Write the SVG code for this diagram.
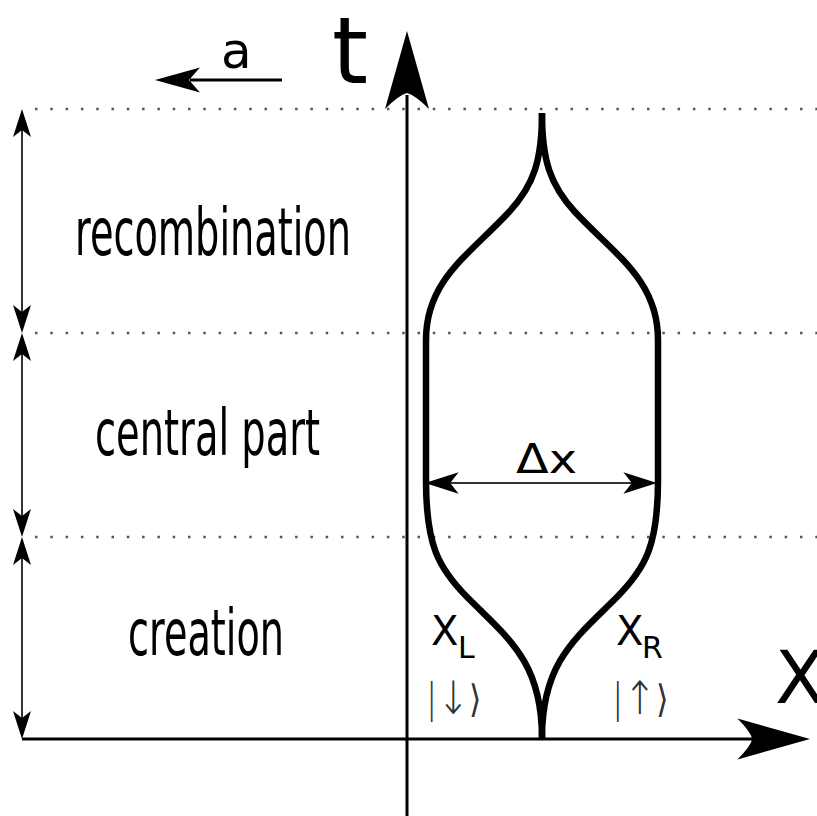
<svg xmlns="http://www.w3.org/2000/svg" width="817" height="816" viewBox="0 0 817 816">
<style>
.dot{stroke:#555;stroke-width:2.5;stroke-dasharray:2.5 12.8;fill:none}
.axis{stroke:#000;stroke-width:3;fill:none}
.thin{stroke:#333;stroke-width:2;fill:none}
.curve{stroke:#000;stroke-width:6.5;fill:none;stroke-linejoin:round}
.head{fill:#000}
.lbl{font-family:"DejaVu Sans","Liberation Sans",sans-serif;fill:#000}
.ket{font-family:"DejaVu Sans","Liberation Sans",sans-serif;fill:#333;font-weight:200}
</style>
<defs>
<path id="ba" d="M0,0 L22,78 Q8,64 0,62 Q-8,64 -22,78 Z"/>
<path id="ma" d="M0,0 L12.5,45 L0,34 L-12.5,45 Z"/>
<path id="sa" d="M0,0 L9,28 L0,21 L-9,28 Z"/>
</defs>
<rect width="817" height="816" fill="#fff"/>
<g id="guides">
<line class="dot" x1="35" y1="109" x2="817" y2="109"/>
<line class="dot" x1="35" y1="333" x2="817" y2="333"/>
<line class="dot" x1="35" y1="537" x2="817" y2="537"/>
</g>
<g id="connectors">
<line class="axis" x1="407" y1="816" x2="407" y2="95"/>
<use href="#ba" class="head" transform="translate(407,31)"/>
<line class="axis" x1="22" y1="739" x2="760" y2="739"/>
<use href="#ba" class="head" transform="translate(810,739) rotate(90) scale(0.93)"/>
<line class="axis" x1="190" y1="80" x2="282" y2="80"/>
<use href="#ma" class="head" transform="translate(155,80) rotate(-90)"/>
<line class="thin" x1="22" y1="125" x2="22" y2="317"/>
<use href="#sa" class="head" transform="translate(22,109)"/>
<use href="#sa" class="head" transform="translate(22,333) rotate(180)"/>
<line class="thin" x1="22" y1="349" x2="22" y2="521"/>
<use href="#sa" class="head" transform="translate(22,333)"/>
<use href="#sa" class="head" transform="translate(22,537) rotate(180)"/>
<line class="thin" x1="22" y1="553" x2="22" y2="723"/>
<use href="#sa" class="head" transform="translate(22,537)"/>
<use href="#sa" class="head" transform="translate(22,739) rotate(180)"/>
<line class="thin" x1="445" y1="483" x2="637" y2="483"/>
<use href="#sa" class="head" transform="translate(425,483) rotate(-90) scale(1.2)"/>
<use href="#sa" class="head" transform="translate(657,483) rotate(90) scale(1.2)"/>
</g>
<g id="bubble">
<path class="curve" d="M542,113 C542,160 534,185 509,212 C469,255 426,280 426,340 L426,480 C426,545 438,568 468,598 C508,638 542,662 542,738"/>
<path class="curve" d="M542,113 C542,160 550,185 575,212 C615,255 658,280 658,340 L658,480 C658,545 646,568 616,598 C576,638 542,662 542,738"/>
</g>
<g id="labels">
<text class="lbl" x="332" y="83" font-size="92">t</text>
<text class="lbl" x="221" y="68" font-size="50">a</text>
<text class="lbl" x="775" y="703" font-size="73">X</text>
<text class="lbl" x="75" y="255" font-size="66" textLength="276" lengthAdjust="spacingAndGlyphs">recombination</text>
<text class="lbl" x="95" y="455" font-size="64" textLength="225" lengthAdjust="spacingAndGlyphs">central part</text>
<text class="lbl" x="128" y="655" font-size="64" textLength="156" lengthAdjust="spacingAndGlyphs">creation</text>
<text class="lbl" x="516" y="473" font-size="40" textLength="61" lengthAdjust="spacingAndGlyphs">Δx</text>
<text class="lbl" x="431" y="645" font-size="40">X</text>
<text class="lbl" x="458" y="658" font-size="30">L</text>
<text class="lbl" x="616" y="645" font-size="40">X</text>
<text class="lbl" x="642" y="658" font-size="30">R</text>
<text class="ket" x="426" y="712" font-size="40" textLength="56" lengthAdjust="spacingAndGlyphs">|<tspan font-size="46" dy="2">↓</tspan><tspan font-size="38" dy="-2">⟩</tspan></text>
<text class="ket" x="612" y="712" font-size="40" textLength="57" lengthAdjust="spacingAndGlyphs">|<tspan font-size="46" dy="2">↑</tspan><tspan font-size="38" dy="-2">⟩</tspan></text>
</g>
</svg>
